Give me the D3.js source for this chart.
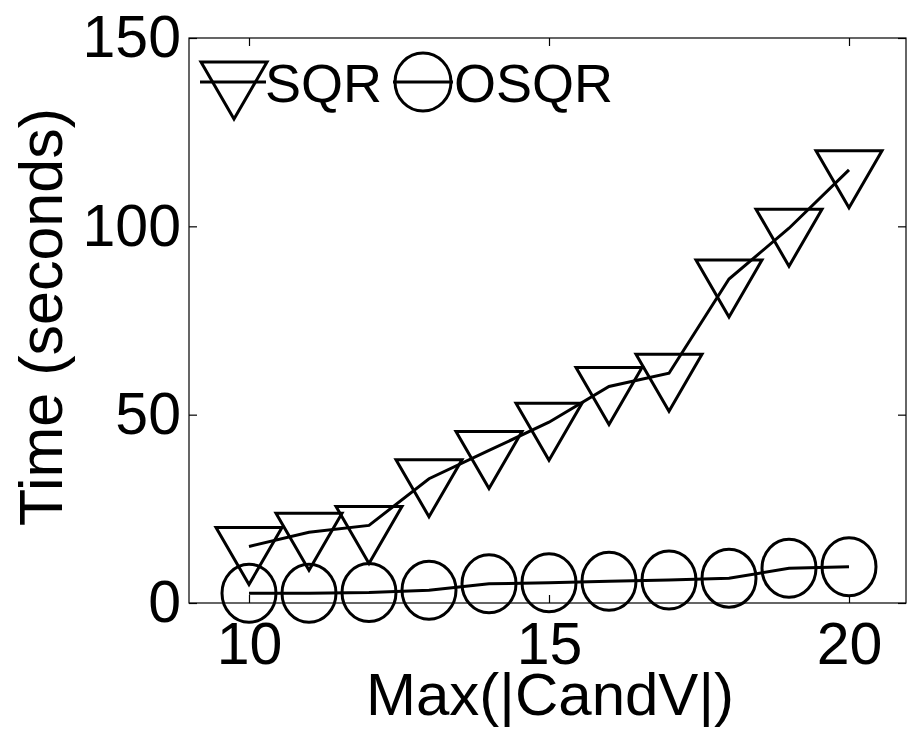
<!DOCTYPE html>
<html><head><meta charset="utf-8">
<script src="https://cdn.jsdelivr.net/npm/d3@7"></script>
<style>body{margin:0;background:#fff}svg{display:block}</style>
</head><body>
<script>
const xValues = [10, 11, 12, 13, 14, 15, 16, 17, 18, 19, 20];
const sqr = [15, 18.8, 20.6, 33, 40.5, 48, 57.5, 61, 86, 99.5, 115];
const osqr = [2.6, 2.6, 2.8, 3.4, 5.1, 5.4, 5.8, 6.1, 6.6, 9.2, 9.6];
const xTicks = [10, 15, 20];
const yTicks = [0, 50, 100, 150];
const seriesNames = ["SQR", "OSQR"];

const W = 908, H = 730;
const L = 189, R = 906, T = 38, B = 603;
const svg = d3.select("body").append("svg").attr("width", W).attr("height", H);
const x = d3.scaleLinear().domain([9, 21]).range([L, L + 720]);
const y = d3.scaleLinear().domain([0, 150]).range([B, T]);
const font = "Liberation Sans, Arial, sans-serif";

// box
svg.append("rect").attr("x", L).attr("y", T).attr("width", R - L).attr("height", B - T)
  .attr("fill", "none").attr("stroke", "#000").attr("stroke-width", 1.2);

// axes
const ax = svg.append("g").attr("transform", `translate(0,${B})`)
  .call(d3.axisBottom(x).tickValues(xTicks).tickSize(-8).tickPadding(19).tickFormat(d3.format("d")));
const ay = svg.append("g").attr("transform", `translate(${L},0)`)
  .call(d3.axisLeft(y).tickValues(yTicks).tickSize(-8).tickPadding(8).tickFormat(d3.format("d")));
const axT = svg.append("g").attr("transform", `translate(0,${T})`)
  .call(d3.axisTop(x).tickValues(xTicks).tickSize(-8).tickFormat(""));
const ayR = svg.append("g").attr("transform", `translate(${R},0)`)
  .call(d3.axisRight(y).tickValues(yTicks).tickSize(-8).tickFormat(""));
[ax, ay, axT, ayR].forEach(g => {
  g.select(".domain").remove();
  g.selectAll("line").attr("stroke", "#000").attr("stroke-width", 1.2);
  g.selectAll("text").attr("font-family", font).attr("font-size", 59).attr("fill", "#000");
});
ax.selectAll("text").attr("dy", "0.71em");

// axis titles
svg.append("text").attr("x", 550).attr("y", 715).attr("text-anchor", "middle")
  .attr("font-family", font).attr("font-size", 60).text("Max(|CandV|)");
svg.append("text").attr("transform", `translate(62,317) rotate(-90)`)
  .attr("text-anchor", "middle").attr("font-family", font).attr("font-size", 61).text("Time (seconds)");

const line = d3.line().x((d, i) => x(xValues[i])).y(d => y(d));
const tri = (cx, cy) => `M${cx - 33},${cy - 19}L${cx + 33},${cy - 19}L${cx},${cy + 38}Z`;

// SQR
svg.append("path").datum(sqr).attr("d", line).attr("fill", "none").attr("stroke", "#000").attr("stroke-width", 3);
svg.selectAll(".tri").data(sqr).enter().append("path")
  .attr("d", (d, i) => tri(x(xValues[i]), y(d)))
  .attr("fill", "none").attr("stroke", "#000").attr("stroke-width", 3).attr("stroke-linejoin", "miter");

// OSQR
svg.append("path").datum(osqr).attr("d", line).attr("fill", "none").attr("stroke", "#000").attr("stroke-width", 3);
svg.selectAll(".circ").data(osqr).enter().append("ellipse")
  .attr("cx", (d, i) => x(xValues[i])).attr("cy", d => y(d)).attr("rx", 27).attr("ry", 29)
  .attr("fill", "none").attr("stroke", "#000").attr("stroke-width", 3);

// legend
const lg = svg.append("g");
lg.append("line").attr("x1", 200).attr("x2", 266).attr("y1", 82).attr("y2", 82).attr("stroke", "#000").attr("stroke-width", 3);
lg.append("path").attr("d", tri(234, 81)).attr("fill", "none").attr("stroke", "#000").attr("stroke-width", 3);
lg.append("text").attr("x", 265).attr("y", 102).attr("font-family", font).attr("font-size", 54).text(seriesNames[0]);
lg.append("line").attr("x1", 393).attr("x2", 453).attr("y1", 82).attr("y2", 82).attr("stroke", "#000").attr("stroke-width", 3);
lg.append("ellipse").attr("cx", 423).attr("cy", 82).attr("rx", 28).attr("ry", 29).attr("fill", "none").attr("stroke", "#000").attr("stroke-width", 3);
lg.append("text").attr("x", 454).attr("y", 102).attr("font-family", font).attr("font-size", 54).text(seriesNames[1]);
</script>
</body></html>
